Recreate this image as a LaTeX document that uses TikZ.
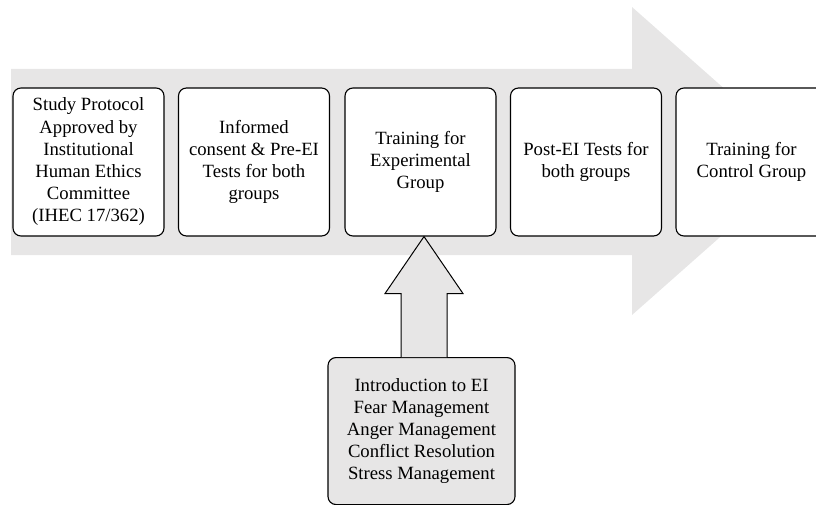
\documentclass[tikz,border=0pt]{standalone}
\usepackage{fontspec}
\setmainfont{Liberation Serif}
\newfontfamily\stagefont{Liberation Serif}
\usetikzlibrary{calc}
\definecolor{flowgray}{HTML}{E7E6E6}
\begin{document}
\begin{tikzpicture}[x=1pt,y=-1pt,
  stagebox/.style={draw=black, line width=1.1pt, fill=white, rounded corners=8pt,
    minimum width=151pt, minimum height=148pt, inner sep=0pt, align=center,
    font=\stagefont\fontsize{18.7}{22.2}\selectfont},
  contentbox/.style={stagebox, fill=flowgray, minimum width=187pt, minimum height=147pt},
  blockarrow/.style={draw=black, line width=1pt, fill=flowgray, line join=miter}]
\useasboundingbox (0,0) rectangle (816,505);
\clip (0,0) rectangle (816,505);

% broad process arrow in the background
\fill[flowgray] (11,69) -- (632,69) -- (632,7) -- (806,161) -- (632,315)
  -- (632,255) -- (11,255) -- cycle;

% process stages
\node[stagebox] (s1) at (88.5,162) {Study Protocol\\Approved by\\Institutional\\Human Ethics\\Committee\\(IHEC 17/362)};
\node[stagebox] (s2) at (254,162) {Informed\\consent \& Pre-EI\\Tests for both\\groups};
\node[stagebox] (s3) at (420.5,162) {Training for\\Experimental\\Group};
\node[stagebox] (s4) at (586,162) {Post-EI Tests for\\both groups};
\node[stagebox] (s5) at (751.5,162) {Training for\\Control Group};

% training content
\node[contentbox, anchor=north] (topics) at (421.5,357) {Introduction to EI\\Fear Management\\Anger Management\\Conflict Resolution\\Stress Management};

% block arrow from the content box up to the experimental training stage
\coordinate (tip) at ($(s3.south)+(3.5,0)$);
\coordinate (base) at (tip |- topics.north);
\draw[blockarrow] ($(base)+(-23,0)$) -- ($(tip)+(-23,57)$) -- ($(tip)+(-39,57)$)
  -- (tip) -- ($(tip)+(39,57)$) -- ($(tip)+(23,57)$) -- ($(base)+(23,0)$);
\end{tikzpicture}
\end{document}
